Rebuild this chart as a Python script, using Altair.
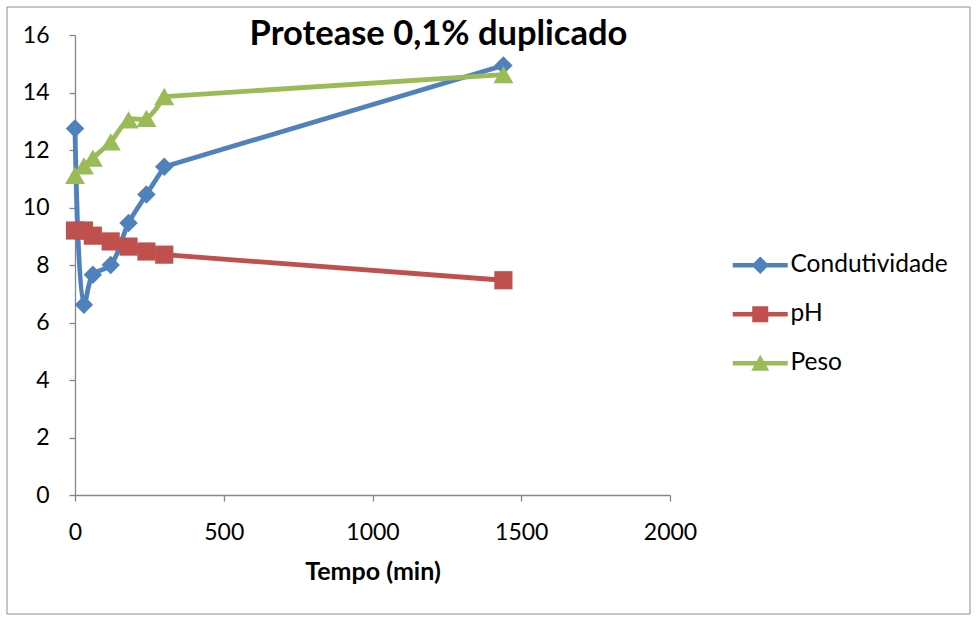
import altair as alt
import pandas as pd

# Sampling times (min) and measured series
tempo = [0, 30, 60, 120, 180, 240, 300, 1440]
condutividade = [12.75, 6.62, 7.66, 8.0, 9.46, 10.45, 11.42, 14.94]
ph = [9.2, 9.2, 9.02, 8.82, 8.64, 8.47, 8.36, 7.47]
peso = [11.12, 11.45, 11.72, 12.28, 13.05, 13.1, 13.86, 14.62]

series = ["Condutividade", "pH", "Peso"]
colors = ["#4F81BD", "#C0504D", "#9BBB59"]
shapes = ["diamond", "square", "triangle-up"]
sizes = [340, 330, 400]

# The dense early readings are drawn as a smooth curve; the long gap to the
# last reading is a straight stretch
dense_until = 300

rows = []
for name, vals in zip(series, [condutividade, ph, peso]):
    for t, v in zip(tempo, vals):
        rows.append({"Tempo": t, "Valor": v, "Serie": name})
df = pd.DataFrame(rows)

FONT = "Lato"

# Legend glyphs: a short line segment with the series marker on it
legend_paths = {
    "Condutividade": "M-2.75,-0.22L2.75,-0.22L2.75,0.22L-2.75,0.22Z M0,-0.88L0.88,0L0,0.88L-0.88,0Z",
    "pH": "M-2.75,-0.22L2.75,-0.22L2.75,0.22L-2.75,0.22Z M-0.8,-0.8L0.8,-0.8L0.8,0.8L-0.8,0.8Z",
    "Peso": "M-2.75,-0.22L2.75,-0.22L2.75,0.22L-2.75,0.22Z M0,-0.85L0.9,0.75L-0.9,0.75Z",
}
shape_expr = (
    f"datum.value === 'Condutividade' ? '{legend_paths['Condutividade']}' : "
    f"datum.value === 'pH' ? '{legend_paths['pH']}' : '{legend_paths['Peso']}'"
)
fill_expr = (
    f"datum.value === 'Condutividade' ? '{colors[0]}' : "
    f"datum.value === 'pH' ? '{colors[1]}' : '{colors[2]}'"
)

color_scale = alt.Scale(domain=series, range=colors)

x_enc = alt.X(
    "Tempo:Q",
    scale=alt.Scale(domain=[0, 2000], nice=False),
    axis=alt.Axis(
        values=[0, 500, 1000, 1500, 2000],
        format="d",
        labelFlush=False,
        title="Tempo (min)",
        titleFontWeight="bold",
        titleFontSize=25,
        titlePadding=15,
        labelPadding=20,
    ),
)
y_enc = alt.Y(
    "Valor:Q",
    scale=alt.Scale(domain=[0, 16], nice=False),
    axis=alt.Axis(values=list(range(0, 17, 2)), format="d", title=None, labelPadding=20),
)

legend = alt.Legend(
    orient="none",
    legendX=673,
    legendY=218,
    padding=0,
    symbolSize=400,
    symbolType=alt.ExprRef(expr=shape_expr),
    symbolFillColor=alt.ExprRef(expr=fill_expr),
    symbolStrokeWidth=0,
    symbolOpacity=1,
    labelOffset=18,
    labelFontSize=24.5,
    labelFont=FONT,
    labelColor="#000000",
    rowPadding=24,
    labelLimit=300,
)

# Each series: curved early part, straight tail, then its markers on top
layers = []
for name, col, shp, sz in zip(series, colors, shapes, sizes):
    base = alt.Chart(df).transform_filter(alt.datum.Serie == name)
    layers.append(
        base.transform_filter(alt.datum.Tempo <= dense_until)
        .mark_line(interpolate="catmull-rom", strokeWidth=4.8)
        .encode(
            x=x_enc,
            y=y_enc,
            color=alt.Color("Serie:N", scale=color_scale, title=None, legend=legend),
        )
    )
    layers.append(
        base.transform_filter(alt.datum.Tempo >= dense_until)
        .mark_line(strokeWidth=4.8, color=col)
        .encode(x=x_enc, y=y_enc)
    )
    layers.append(
        base.mark_point(filled=True, opacity=1, size=sz, shape=shp, color=col).encode(
            x=x_enc, y=y_enc
        )
    )

# Outer frame around the whole figure
frame = alt.Chart(pd.DataFrame({"f": [0]})).mark_rect(
    fill=None, stroke="#8C8C8C", strokeWidth=1
).encode(
    x=alt.value(-68), x2=alt.value(895), y=alt.value(-28), y2=alt.value(579)
)

chart = (
    alt.layer(frame, *layers)
    .properties(
        width=595,
        height=460,
        padding={"left": 75, "top": 35, "right": 307, "bottom": 126},
        autosize=alt.AutoSizeParams(type="none"),
        background="white",
        title=alt.TitleParams(
            "Protease 0,1% duplicado",
            font=FONT,
            fontSize=34.5,
            fontWeight="bold",
            color="#000000",
            anchor="middle",
            dx=66,
            dy=63,
            offset=0,
            baseline="middle",
        ),
    )
    .configure_view(stroke=None)
    .configure_axis(
        grid=False,
        domainColor="#868686",
        domainWidth=1.3,
        tickColor="#868686",
        tickWidth=1.3,
        tickSize=6,
        labelFont=FONT,
        labelFontSize=23,
        labelColor="#000000",
        titleFont=FONT,
        titleColor="#000000",
    )
)

chart.save("out.html", embed_options={"renderer": "svg", "actions": False})
